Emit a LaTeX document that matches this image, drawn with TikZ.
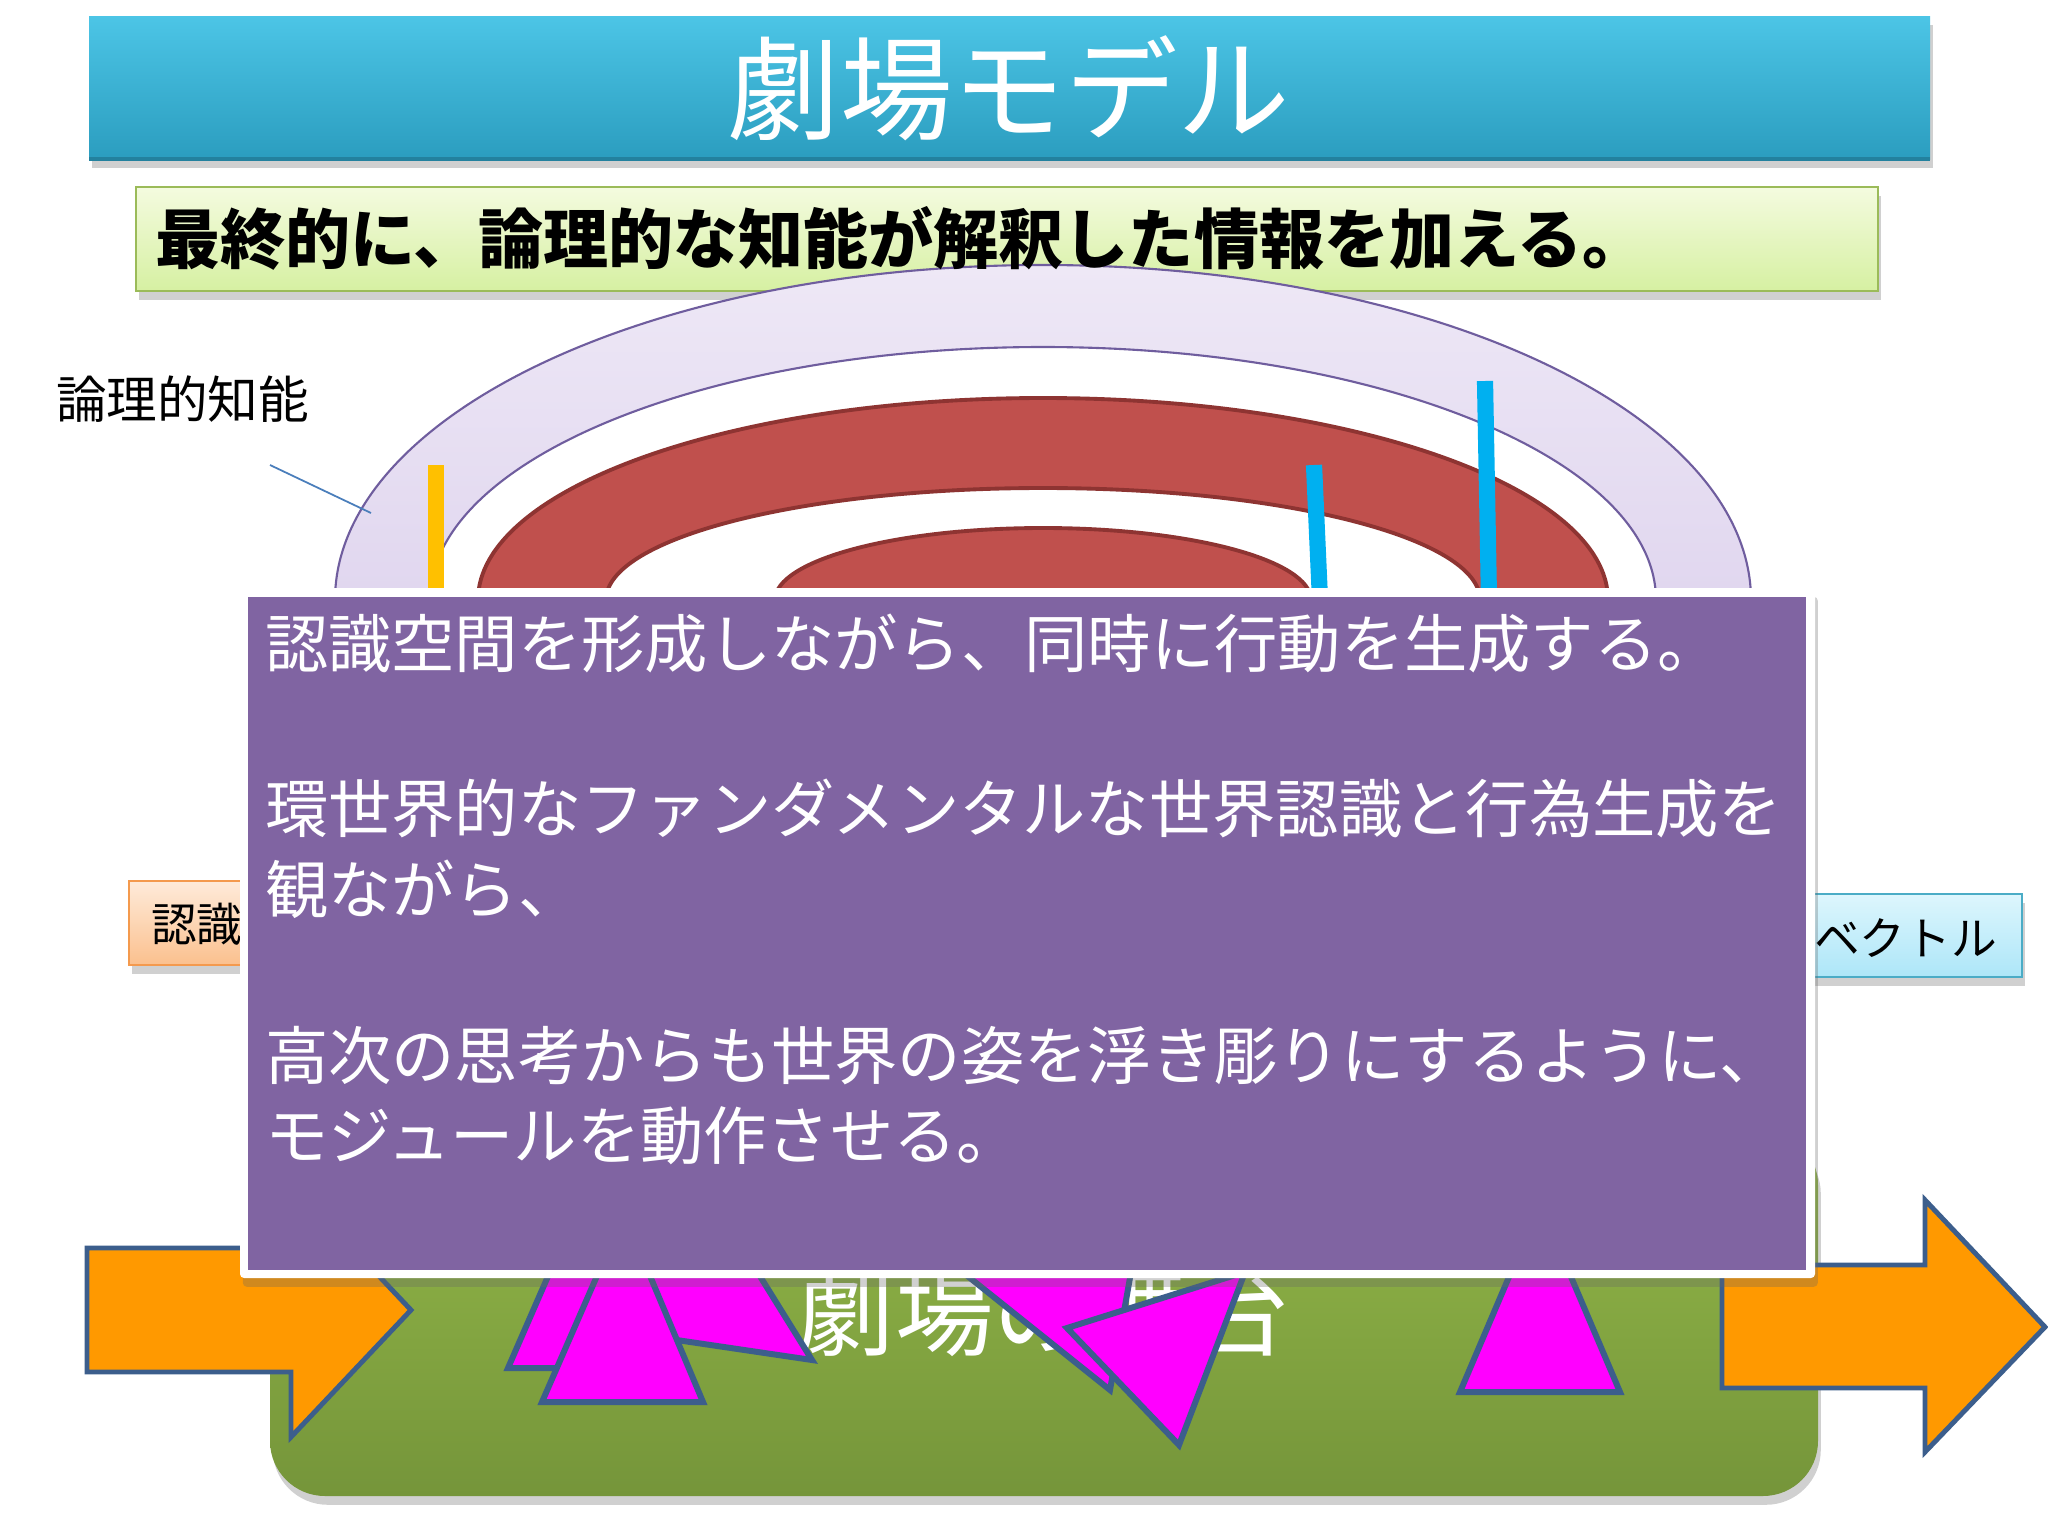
\documentclass[tikz,border=0pt]{standalone}
\usepackage{fontspec}
\newfontfamily\jp{Noto Sans CJK JP}
\usetikzlibrary{shadows}
\definecolor{titletop}{HTML}{4CC5E6}
\definecolor{titlebot}{HTML}{2B9DBF}
\definecolor{titleedge}{HTML}{23819E}
\definecolor{subtop}{HTML}{F4FBDF}
\definecolor{subbot}{HTML}{D6F0A2}
\definecolor{subedge}{HTML}{9BBB59}
\definecolor{lavtop}{HTML}{EEE8F6}
\definecolor{lavbot}{HTML}{D3C5E8}
\definecolor{lavedge}{HTML}{6F5D9E}
\definecolor{redfill}{HTML}{C0504D}
\definecolor{rededge}{HTML}{8E3432}
\definecolor{yellowbar}{HTML}{FFC000}
\definecolor{bluebar}{HTML}{00B0F0}
\definecolor{conncol}{HTML}{4A7EBB}
\definecolor{otop}{HTML}{FEEBDA}
\definecolor{obot}{HTML}{FBC08E}
\definecolor{oedge}{HTML}{F49A4E}
\definecolor{ctop}{HTML}{DDF6FD}
\definecolor{cbot}{HTML}{ADE6F8}
\definecolor{cedge}{HTML}{4BACC6}
\definecolor{gtop}{HTML}{94B949}
\definecolor{gbot}{HTML}{75953A}
\definecolor{purplefill}{HTML}{8064A2}
\definecolor{magentafill}{HTML}{FF00FF}
\definecolor{triedge}{HTML}{3C5E8C}
\definecolor{arrowfill}{HTML}{FF9900}
\begin{document}
\begin{tikzpicture}[x=0.01cm,y=-0.01cm,
  jptext/.style={inner sep=0pt, outer sep=0pt},
  tri/.style={fill=magentafill, draw=triedge, line width=1.7pt, line join=miter},
  blockarrow/.style={fill=arrowfill, draw=triedge, line width=1.4pt},
  softshadow/.style={drop shadow={shadow xshift=0.8pt, shadow yshift=-2.5pt, opacity=0.3, fill=black!60}},
  barline/.style={line width=4.6pt}
]
\useasboundingbox (0,0) rectangle (2048,1536);
\fill[white] (0,0) rectangle (2048,1536);

% title bar
\path[softshadow, top color=titletop, bottom color=titlebot] (89,16) rectangle (1930,159);
\draw[titleedge, line width=1pt] (89,159) -- (1930,159);
\node[jptext, anchor=base, text=white, font={\jp\fontsize{32pt}{38pt}\selectfont}] (title) at (1009,131) {劇場モデル};

% subtitle box
\path[softshadow, top color=subtop, bottom color=subbot, draw=subedge, line width=0.8pt] (136,187) rectangle (1878,291);

% arcs
\begin{scope}
\clip (0,0) rectangle (2048,600);
\path[top color=lavtop, middle color=lavbot, bottom color=lavbot, draw=lavedge, line width=0.6pt] (1043,600) ellipse [x radius=708, y radius=335];
\fill[white, draw=lavedge, line width=0.6pt] (1043,600) ellipse [x radius=613, y radius=253];
\fill[redfill, draw=rededge, line width=1.1pt] (1043,600) ellipse [x radius=565, y radius=202];
\fill[white, draw=rededge, line width=1.1pt] (1043,600) ellipse [x radius=437, y radius=112];
\fill[redfill, draw=rededge, line width=1.1pt] (1043,600) ellipse [x radius=268, y radius=72];
\end{scope}

% subtitle text
\node[jptext, anchor=base west, font={\jp\bfseries\fontsize{18.5pt}{22pt}\selectfont}] (sub) at (155,263) {最終的に、論理的な知能が解釈した情報を加える。};

% bars
\draw[yellowbar, barline] (436,465) -- (436,600);
\draw[bluebar, barline] (1314,465) -- (1320,600);
\draw[bluebar, barline] (1485,381) -- (1489,600);

% label with connector
\node[jptext, anchor=base west, font={\jp\fontsize{14.4pt}{17pt}\selectfont}] (logic) at (56,418) {論理的知能};
\coordinate (lineA) at (270,465);
\coordinate (lineB) at (371,513);
\draw[conncol, line width=0.5pt] (lineA) -- (lineB);

% side boxes
\path[softshadow, top color=otop, bottom color=obot, draw=oedge, line width=0.8pt] (129,881) rectangle (330,965);
\node[jptext, anchor=base west, font={\jp\fontsize{13pt}{16pt}\selectfont}] (recog) at (151,941) {認識};
\path[softshadow, top color=ctop, bottom color=cbot, draw=cedge, line width=0.8pt] (1740,894) rectangle (2022,977);
\node[jptext, anchor=base east, font={\jp\fontsize{13pt}{16pt}\selectfont}] (vec) at (1997,955) {のベクトル};

% stage box
\path[softshadow, top color=gtop, bottom color=gbot, rounded corners=0.55cm] (270,1130) rectangle (1818,1496);
\node[jptext, anchor=base, text=white, font={\jp\fontsize{28pt}{33pt}\selectfont}] (stage) at (1043,1348) {劇場の舞台};

% triangles
\draw[tri] (508,1368) -- (669,1368) -- (590,1180) -- cycle;
\draw[tri] (812,1360) -- (609,1330) -- (704,1186) -- cycle;
\draw[tri] (542,1402) -- (703,1402) -- (624,1214) -- cycle;
\draw[tri] (1110,1390) -- (950,1262) -- (1146,1188) -- cycle;
\draw[tri] (1067,1328) -- (1179,1445) -- (1245,1272) -- cycle;
\draw[tri] (1460,1392) -- (1620,1392) -- (1540,1204) -- cycle;

% block arrows
\draw[blockarrow] (87,1248) -- (291,1248) -- (291,1183) -- (411,1310) -- (291,1437) -- (291,1372) -- (87,1372) -- cycle;
\draw[blockarrow] (1722,1265) -- (1925,1265) -- (1925,1200) -- (2045,1327) -- (1925,1452) -- (1925,1388) -- (1722,1388) -- cycle;

% purple text box
\path[softshadow, fill=white, rounded corners=0.04cm] (240,588) rectangle (1815,1278);
\fill[purplefill] (248,597) rectangle (1806,1270);
\begin{scope}[every node/.style={jptext, anchor=base west, text=white, font={\jp\fontsize{18pt}{22pt}\selectfont}}]
\node (p1) at (265,667) {認識空間を形成しながら、同時に行動を生成する。};
\node (p2) at (265,832) {環世界的なファンダメンタルな世界認識と行為生成を};
\node (p3) at (265,913) {観ながら、};
\node (p4) at (265,1079) {高次の思考からも世界の姿を浮き彫りにするように、};
\node (p5) at (265,1159) {モジュールを動作させる。};
\end{scope}
\end{tikzpicture}
\end{document}
